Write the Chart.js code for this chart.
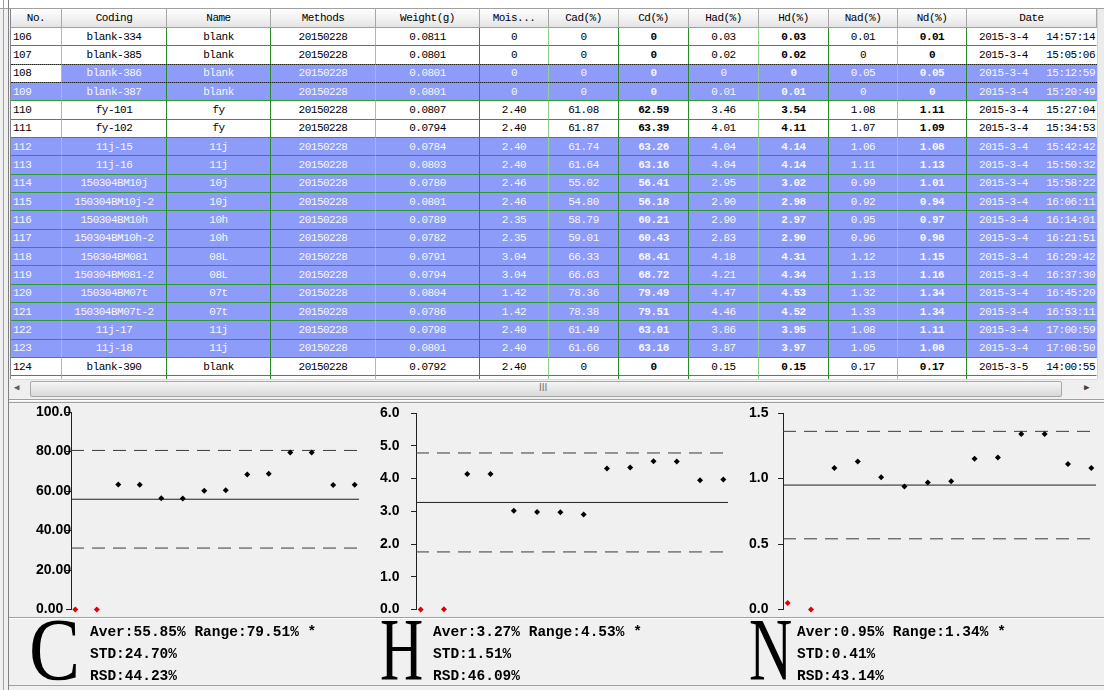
<!DOCTYPE html>
<html>
<head>
<meta charset="utf-8">
<script src="https://cdn.jsdelivr.net/npm/chart.js@4.4.1/dist/chart.umd.min.js"></script>
<style>
  body { margin: 0; width: 1104px; height: 690px; background: #f0f0f0; position: relative; overflow: hidden; font-family: "Liberation Mono", monospace; }
  .abs { position: absolute; }
  #grid { position: absolute; left: 10px; top: 9px; width: 1087px; height: 370px; background: #fff; border-left: 1px solid #828790; overflow: hidden; }
  table { border-collapse: separate; border-spacing: 0; table-layout: fixed; width: 1086px; font-size: 11px; letter-spacing: -0.5px; }
  th { height: 18px; font-weight: normal; background: linear-gradient(#ffffff, #f2f2f2 50%, #e4e4e4); border-right: 1px solid #a8a8a8; border-bottom: 1px solid #a0a0a0; padding: 0; white-space: nowrap; overflow: hidden; }
  tr.r { height: 18.33px; }
  td { padding: 0; border-bottom: 1px solid #2f9a2f; text-align: center; white-space: pre; overflow: hidden; }
  td.no { text-align: left; padding-left: 2px; }
  td.dt { text-align: right; padding-right: 1px; }
  td.b { font-weight: bold; }
  tr.sel td { background: #8c9cf8; color: #f6f6ff; }
  tr.sel td.focus { background: #fff; color: #000; }
  #focus { position: absolute; border-top: 1px dotted #222; border-bottom: 1px dotted #222; pointer-events: none; }
  .big { position: absolute; font-family: "Liberation Serif", serif; font-size: 88px; line-height: 88px; color: #000; transform-origin: left top; }
  .stat { position: absolute; font-family: "Liberation Mono", monospace; font-weight: bold; font-size: 14.5px; line-height: 22px; color: #000; white-space: pre; }
  canvas { position: absolute; }
</style>
</head>
<body>
<div class="abs" style="left:0;top:0;width:1104px;height:8px;background:#fff;border-bottom:1px solid #a0a0a0"></div>
<div class="abs" style="left:3px;top:0;width:1px;height:690px;background:#a0a0a0"></div>
<div class="abs" style="left:8px;top:0;width:1px;height:690px;background:#808080"></div>

<div id="grid"><table id="tbl"></table><div id="focus"></div></div>
<div class="abs" style="left:1097px;top:9px;width:7px;height:370px;background:#ececec;border-left:1px solid #d4d4d4"></div>

<!-- horizontal scrollbar -->
<div class="abs" style="left:11px;top:379px;width:1086px;height:18px;background:#efefef;border-top:1px solid #dcdcdc"></div>
<div class="abs" style="left:14px;top:382px;font-size:9px;color:#606060">&#9664;</div>
<div class="abs" style="left:30px;top:381px;width:1030px;height:14px;background:linear-gradient(#f6f6f6,#d8d8d8);border:1px solid #a8a8a8;border-radius:2px"></div>
<div class="abs" style="left:539px;top:382px;font-size:10px;color:#707070;font-family:'Liberation Sans'">III</div>
<div class="abs" style="left:1084px;top:382px;font-size:9px;color:#404040">&#9654;</div>

<!-- bottom panel borders -->
<div class="abs" style="left:9px;top:399px;width:1095px;height:1px;background:#a0a0a0"></div>
<div class="abs" style="left:9px;top:400px;width:1095px;height:1px;background:#fff"></div>
<div class="abs" style="left:9px;top:402px;width:1095px;height:1px;background:#a0a0a0"></div>
<div class="abs" style="left:9px;top:617px;width:1095px;height:1px;background:#a0a0a0"></div>
<div class="abs" style="left:9px;top:618px;width:1095px;height:1px;background:#fff"></div>
<div class="abs" style="left:9px;top:685px;width:1095px;height:1px;background:#a0a0a0"></div>

<canvas id="chartC" width="335" height="221" style="left:30px;top:400px"></canvas>
<canvas id="chartH" width="360" height="220" style="left:374px;top:401px"></canvas>
<canvas id="chartN" width="359" height="220" style="left:743px;top:401px"></canvas>

<div id="stats"></div>

<script>
// table columns
const headers = ['No.', 'Coding', 'Name', 'Methods', 'Weight(g)', 'Mois...', 'Cad(%)', 'Cd(%)', 'Had(%)', 'Hd(%)', 'Nad(%)', 'Nd(%)', 'Date'];
const rowNos = [106, 107, 108, 109, 110, 111, 112, 113, 114, 115, 116, 117, 118, 119, 120, 121, 122, 123, 124];
const codings = ['blank-334', 'blank-385', 'blank-386', 'blank-387', 'fy-101', 'fy-102', '11j-15', '11j-16', '150304BM10j', '150304BM10j-2',
  '150304BM10h', '150304BM10h-2', '150304BM081', '150304BM081-2', '150304BM07t', '150304BM07t-2', '11j-17', '11j-18', 'blank-390'];
const names = ['blank', 'blank', 'blank', 'blank', 'fy', 'fy', '11j', '11j', '10j', '10j', '10h', '10h', '08L', '08L', '07t', '07t', '11j', '11j', 'blank'];
const methods = Array(19).fill('20150228');
const weights = [0.0811, 0.0801, 0.0801, 0.0801, 0.0807, 0.0794, 0.0784, 0.0803, 0.0780, 0.0801, 0.0789, 0.0782, 0.0791, 0.0794, 0.0804, 0.0786, 0.0798, 0.0801, 0.0792];
const mois = [0, 0, 0, 0, 2.40, 2.40, 2.40, 2.40, 2.46, 2.46, 2.35, 2.35, 3.04, 3.04, 1.42, 1.42, 2.40, 2.40, 2.40];
const cad = [0, 0, 0, 0, 61.08, 61.87, 61.74, 61.64, 55.02, 54.80, 58.79, 59.01, 66.33, 66.63, 78.36, 78.38, 61.49, 61.66, 0];
const cd = [0, 0, 0, 0, 62.59, 63.39, 63.26, 63.16, 56.41, 56.18, 60.21, 60.43, 68.41, 68.72, 79.49, 79.51, 63.01, 63.18, 0];
const had = [0.03, 0.02, 0, 0.01, 3.46, 4.01, 4.04, 4.04, 2.95, 2.90, 2.90, 2.83, 4.18, 4.21, 4.47, 4.46, 3.86, 3.87, 0.15];
const hd = [0.03, 0.02, 0, 0.01, 3.54, 4.11, 4.14, 4.14, 3.02, 2.98, 2.97, 2.90, 4.31, 4.34, 4.53, 4.52, 3.95, 3.97, 0.15];
const nad = [0.01, 0, 0.05, 0, 1.08, 1.07, 1.06, 1.11, 0.99, 0.92, 0.95, 0.96, 1.12, 1.13, 1.32, 1.33, 1.08, 1.05, 0.17];
const nd = [0.01, 0, 0.05, 0, 1.11, 1.09, 1.08, 1.13, 1.01, 0.94, 0.97, 0.98, 1.15, 1.16, 1.34, 1.34, 1.11, 1.08, 0.17];
const dates = ['2015-3-4   14:57:14', '2015-3-4   15:05:06', '2015-3-4   15:12:59', '2015-3-4   15:20:49', '2015-3-4   15:27:04',
  '2015-3-4   15:34:53', '2015-3-4   15:42:42', '2015-3-4   15:50:32', '2015-3-4   15:58:22', '2015-3-4   16:06:11',
  '2015-3-4   16:14:01', '2015-3-4   16:21:51', '2015-3-4   16:29:42', '2015-3-4   16:37:30', '2015-3-4   16:45:20',
  '2015-3-4   16:53:11', '2015-3-4   17:00:59', '2015-3-4   17:08:50', '2015-3-5   14:00:55'];
const selectedNos = [108, 109, 112, 113, 114, 115, 116, 117, 118, 119, 120, 121, 122, 123];

// statistics shown under the charts (C, H, N)
const elements = ['C', 'H', 'N'];
const avers = [55.85, 3.27, 0.95];
const ranges = [79.51, 4.53, 1.34];
const stds = [24.70, 1.51, 0.41];
const rsds = [44.23, 46.09, 43.14];
const yMaxes = [100, 6, 1.5];
const ySteps = [20, 1, 0.5];

const colWidths = [51, 105, 104, 105, 104, 69, 70, 70, 70, 70, 69, 69, 130];
const vlines = ['#8fd08f', '#2a8a2a', '#2a8a2a', '#8fd08f', '#2a8a2a', '#8fd08f', '#2a8a2a', '#2a8a2a', '#8fd08f', '#2a8a2a', '#8fd08f', '#2a8a2a', 'transparent'];

const fmt = (v, d) => v === 0 ? '0' : v.toFixed(d);

function buildTable() {
    const tbl = document.getElementById('tbl');
    let html = '<colgroup>' + colWidths.map(w => `<col style="width:${w}px">`).join('') + '</colgroup>';
    html += '<tr>' + headers.map(h => `<th>${h}</th>`).join('') + '</tr>';
    rowNos.forEach((no, i) => {
        const cells = [no, codings[i], names[i], methods[i], weights[i].toFixed(4), fmt(mois[i], 2), fmt(cad[i], 2), fmt(cd[i], 2),
            fmt(had[i], 2), fmt(hd[i], 2), fmt(nad[i], 2), fmt(nd[i], 2), dates[i]];
        const sel = selectedNos.includes(no);
        html += `<tr class="r${sel ? ' sel' : ''}" id="row${no}">` + cells.map((c, j) => {
            let cls = j === 0 ? 'no' : (j === 12 ? 'dt' : '');
            if (j === 7 || j === 9 || j === 11) cls += ' b';
            if (no === 108 && j === 0) cls += ' focus';
            return `<td class="${cls}" style="border-right:1px solid ${vlines[j]}">${c}</td>`;
        }).join('') + '</tr>';
    });
    html += '<tr class="r">' + colWidths.map((w, j) => `<td style="border-right:1px solid ${vlines[j]}"></td>`).join('') + '</tr>';
    tbl.innerHTML = html;

    const grid = document.getElementById('grid').getBoundingClientRect();
    const r = document.getElementById('row108').getBoundingClientRect();
    const f = document.getElementById('focus');
    f.style.left = '0px';
    f.style.width = (r.width) + 'px';
    f.style.top = (r.top - grid.top - 1) + 'px';
    f.style.height = (r.height - 1) + 'px';
}

function buildStats() {
    const lefts = [29, 380, 749];
    const textLefts = [90, 433, 797];
    const squeeze = [0.87, 0.68, 0.68];
    let html = '';
    elements.forEach((el, i) => {
        html += `<div class="big" style="left:${lefts[i]}px;top:606px;transform:scaleX(${squeeze[i]})">${el}</div>`;
        html += `<div class="stat" style="left:${textLefts[i]}px;top:621px">Aver:${avers[i].toFixed(2)}% Range:${ranges[i].toFixed(2)}% *\nSTD:${stds[i].toFixed(2)}%\nRSD:${rsds[i].toFixed(2)}%</div>`;
    });
    document.getElementById('stats').innerHTML = html;
}

function drawControlChart(id, idx, series, axisWidth) {
    const pts = selectedNos.map((no, k) => ({ x: k, y: series[rowNos.indexOf(no)] }));
    const colors = selectedNos.map(no => names[rowNos.indexOf(no)] === 'blank' ? '#e00000' : '#000000');
    const xMin = -0.2, xMax = selectedNos.length - 1 + 0.2;
    const aver = avers[idx], std = stds[idx];
    const hline = y => [{ x: xMin, y }, { x: xMax, y }];
    new Chart(document.getElementById(id), {
        type: 'scatter',
        data: {
            datasets: [
                {
                    data: pts,
                    pointStyle: 'rectRot',
                    pointRadius: 3,
                    pointBorderWidth: 0,
                    pointBackgroundColor: colors,
                    clip: false
                },
                { data: hline(aver), showLine: true, borderColor: '#1e1e1e', borderWidth: 1, pointRadius: 0 },
                { data: hline(aver + std), showLine: true, borderColor: '#3a3a3a', borderWidth: 1, borderDash: [13, 8], pointRadius: 0 },
                { data: hline(aver - std), showLine: true, borderColor: '#3a3a3a', borderWidth: 1, borderDash: [13, 8], pointRadius: 0 }
            ]
        },
        options: {
            responsive: false,
            animation: false,
            events: [],
            layout: { padding: { left: 6, right: 6, top: 12, bottom: 8 } },
            plugins: { legend: { display: false }, tooltip: { enabled: false } },
            scales: {
                x: { type: 'linear', display: false, min: xMin, max: xMax },
                y: {
                    min: 0,
                    max: yMaxes[idx],
                    afterFit: scale => { scale.width = axisWidth; },
                    border: { display: true, color: '#202020', width: 1 },
                    grid: { display: true, drawOnChartArea: false, drawTicks: true, tickLength: 5, color: '#202020' },
                    ticks: {
                        stepSize: ySteps[idx],
                        crossAlign: 'far',
                        color: '#000',
                        font: { family: 'Liberation Sans', size: 14, weight: 'bold' },
                        callback: v => (idx === 0 ? v.toFixed(2) : v.toFixed(1)).slice(0, 5)
                    }
                }
            }
        }
    });
}

buildTable();
buildStats();
drawControlChart('chartC', 0, cd, 35);
drawControlChart('chartH', 1, hd, 36);
drawControlChart('chartN', 2, nd, 34);
</script>
</body>
</html>
